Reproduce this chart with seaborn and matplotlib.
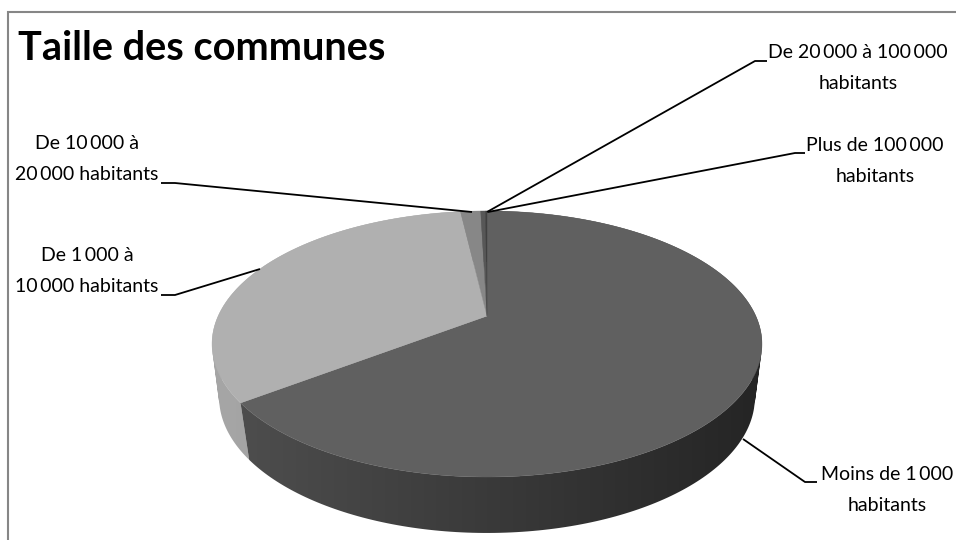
import numpy as np
import matplotlib
matplotlib.use("Agg")
import matplotlib.pyplot as plt
from matplotlib.patches import PathPatch
from matplotlib.path import Path
import seaborn as sns

# --- data -------------------------------------------------------------
categories = ["Moins de 1\u2009000\nhabitants", "De 1\u2009000 à\n10\u2009000 habitants",
              "De 10\u2009000 à\n20\u2009000 habitants", "De 20\u2009000 à 100\u2009000\nhabitants",
              "Plus de 100\u2009000\nhabitants"]
values = [64.8, 33.3, 1.45, 0.35, 0.1]
title = "Taille des communes"

# --- style ------------------------------------------------------------
sns.set_theme(style="white")
plt.rcParams["font.family"] = ["Lato", "DejaVu Sans"]
top_colors = sns.color_palette(["#606060", "#b0b0b0", "#878787", "#575757", "#404040"])
wall_left = ["#505050", "#a6a6a6", "#777777", "#555555", "#3c3c3c"]
wall_right = ["#242424", "#939393", "#777777", "#555555", "#3c3c3c"]

fig = plt.figure(figsize=(9.56, 5.40), dpi=100, facecolor="white")
ax = fig.add_axes([0, 0, 1, 1])

# --- projection of the unit disc (perspective) -------------------------
CX = 487.0


def project(x, y, k=0.2105, a=-60.6, b=316.0, c=268.8):
    w = 1 + k * y
    return CX + c * x / w, (a * y + b) / w


def rim(theta):
    return project(np.sin(theta), np.cos(theta))


def rim_low(theta):
    return project(np.sin(theta), np.cos(theta), k=0.19, a=-60.0, b=371.7, c=263.0)


fractions = np.array(values, dtype=float) / np.sum(values)
edges = np.concatenate([[0.0], np.cumsum(fractions)]) * 2 * np.pi


def rgb(h):
    return np.array(matplotlib.colors.to_rgb(h))


def swept_path(t):
    """Union of small wall quads, all with the same winding."""
    x1, y1 = rim(t)
    x2, y2 = rim_low(t)
    verts, codes = [], []
    for j in range(len(t) - 1):
        q = [(x1[j], y1[j]), (x1[j + 1], y1[j + 1]), (x2[j + 1], y2[j + 1]), (x2[j], y2[j])]
        area = sum(q[n][0] * q[(n + 1) % 4][1] - q[(n + 1) % 4][0] * q[n][1] for n in range(4))
        if area < 0:
            q = q[::-1]
        verts += q + [q[0]]
        codes += [Path.MOVETO, Path.LINETO, Path.LINETO, Path.LINETO, Path.CLOSEPOLY]
    return Path(verts, codes)


# side wall: one gradient per slice, last slice first
for i in reversed(range(len(values))):
    t = np.linspace(edges[i], edges[i + 1], 240)
    poly = PathPatch(swept_path(t), transform=ax.transData, facecolor="none", edgecolor="none")
    ax.add_patch(poly)
    f = np.linspace(0, 1, 256)[None, :, None]
    grad = rgb(wall_left[i])[None, None, :] * (1 - f) + rgb(wall_right[i])[None, None, :] * f
    im = ax.imshow(grad, extent=(205, 770, 540, 200), aspect="auto", zorder=2,
                   interpolation="bilinear")
    im.set_clip_path(poly)

ax.set_xlim(0, 956)
ax.set_ylim(540, 0)
ax.axis("off")

# top face
for i in range(len(values)):
    t = np.linspace(edges[i], edges[i + 1], 300)
    rx, ry = rim(t)
    ax0, ay0 = project(0.0, 0.0)
    ax.fill(np.r_[ax0, rx], np.r_[ay0, ry], color=top_colors[i], lw=0.3, zorder=3)

# leader lines
leaders = [
    ([817, 805, 743], [482, 482, 439]),
    ([161, 175, 260], [295, 295, 269]),
    ([161, 175, 472], [183, 183, 212]),
    ([767, 755, 487], [61, 61, 212]),
    ([805, 795, 488], [153, 153, 212]),
]
for xs, ys in leaders:
    ax.plot(xs, ys, color="black", lw=1.3, zorder=4, solid_capstyle="butt")

# labels
label_pos = [(887, 490), (87, 271), (87, 159), (858, 68), (875, 161)]
for txt, (x, y) in zip(categories, label_pos):
    ax.text(x, y, txt, ha="center", va="center", fontsize=14, color="black",
            linespacing=2.0, zorder=5)

ax.text(18, 60, title, ha="left", va="baseline", fontsize=28.6, fontweight="bold", color="black")

# chart frame (cut by the image edge)
ax.plot([8, 8, 956], [540, 12, 12], color="#868686", lw=1.5, zorder=1, solid_joinstyle="miter")

fig.savefig("out.png", dpi=100, facecolor="white")
